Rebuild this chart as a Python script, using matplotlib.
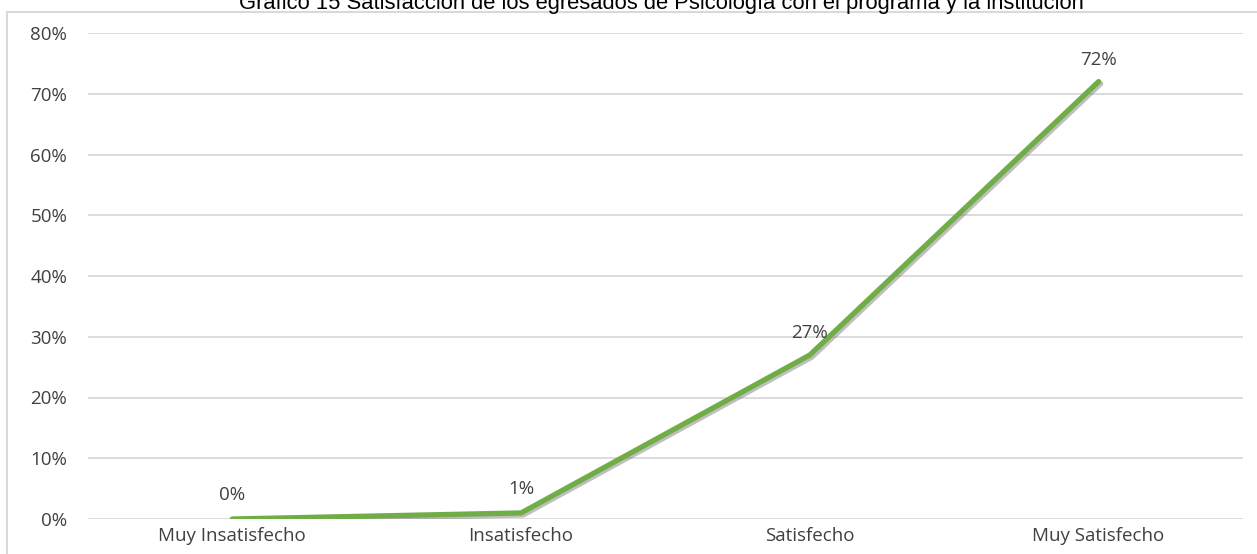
import matplotlib
matplotlib.use("Agg")
import matplotlib.pyplot as plt
import matplotlib.patheffects as pe
from matplotlib.patches import Rectangle

categorias = ["Muy Insatisfecho", "Insatisfecho", "Satisfecho", "Muy Satisfecho"]
valores = [0.0, 1.0, 27.0, 72.0]
etiquetas = ["0%", "1%", "27%", "72%"]
yticks = [0, 10, 20, 30, 40, 50, 60, 70, 80]
titulo = "Gráfico 15 Satisfacción de los egresados de Psicología con el programa y la institución"

W, H = 1257, 554
fig = plt.figure(figsize=(W / 100, H / 100), dpi=100)
ax = fig.add_axes([88 / W, 1 - 519 / H, 1155 / W, (519 - 33) / H])

fuente = "Open Sans"
gris = "#404040"

x = list(range(len(categorias)))
ax.plot(x, valores, color="#70AD47", lw=3.8, solid_capstyle="round", solid_joinstyle="round",
        path_effects=[pe.SimpleLineShadow(offset=(1.5, -1.5), shadow_color="gray", alpha=0.5),
                      pe.Normal()], zorder=3)

offs = [11, 11, 9, 9]
for xi, v, lab, o in zip(x, valores, etiquetas, offs):
    ax.annotate(lab, (xi, v), xytext=(0, o), textcoords="offset points",
                ha="center", va="bottom", fontsize=13.5, color=gris, family=fuente)

ax.set_xlim(-0.5, 3.5)
ax.set_ylim(0, 80)
ax.set_yticks(yticks)
ax.set_yticklabels([f"{t}%" for t in yticks], fontsize=13.5, color=gris, family=fuente)
ax.set_xticks(x)
ax.set_xticklabels(categorias, fontsize=13.5, color=gris, family=fuente)
ax.tick_params(axis="both", length=0)
ax.tick_params(axis="y", pad=15)
ax.tick_params(axis="x", pad=6)
ax.grid(axis="y", color="#D9D9D9", lw=1.3)
ax.set_axisbelow(True)
for s in ax.spines.values():
    s.set_visible(False)

# marco del gráfico
fig.patches.append(Rectangle((7 / W, -0.1), 1.2, 1.1 - 12 / H, transform=fig.transFigure,
                             fill=False, edgecolor="#D9D9D9", lw=1.5))

fig.text(661 / W, 1 - 8.5 / H, titulo, ha="center", va="baseline", fontsize=15.8,
         family=["Liberation Sans Narrow", "Liberation Sans"], color="black")

fig.savefig("out.png", dpi=100)
